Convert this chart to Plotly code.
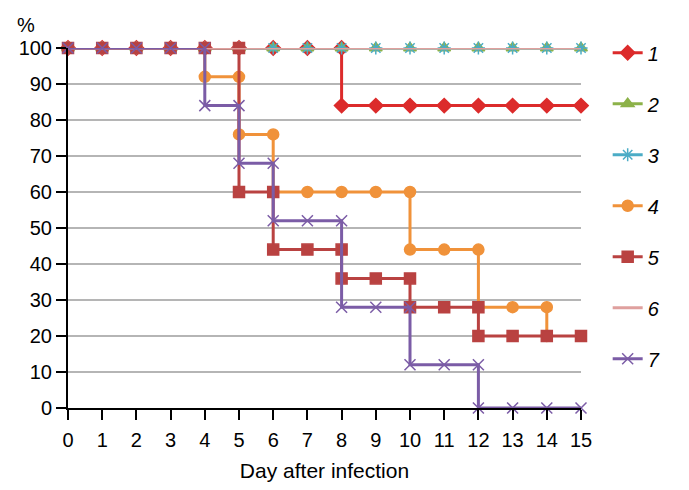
import plotly.graph_objects as go

# Step survival data (days duplicated where a drop occurs)
days_1 = [0, 1, 2, 3, 4, 5, 6, 7, 8, 8, 9, 10, 11, 12, 13, 14, 15]
vals_1 = [100, 100, 100, 100, 100, 100, 100, 100, 100, 84, 84, 84, 84, 84, 84, 84, 84]

days_2 = list(range(0, 16))
vals_2 = [100] * 16

days_3 = list(range(0, 16))
vals_3 = [100] * 16

days_4 = [0, 1, 2, 3, 4, 4, 5, 5, 6, 6, 7, 8, 9, 10, 10, 11, 12, 12, 13, 14, 14]
vals_4 = [100, 100, 100, 100, 100, 92, 92, 76, 76, 60, 60, 60, 60, 60, 44, 44, 44, 28, 28, 28, 20]

days_5 = [0, 1, 2, 3, 4, 5, 5, 6, 6, 7, 8, 8, 9, 10, 10, 11, 12, 12, 13, 14, 15]
vals_5 = [100, 100, 100, 100, 100, 100, 60, 60, 44, 44, 44, 36, 36, 36, 28, 28, 28, 20, 20, 20, 20]

days_6 = [0, 15]
vals_6 = [100, 100]

days_7 = [0, 1, 2, 3, 4, 4, 5, 5, 6, 6, 7, 8, 8, 9, 10, 10, 11, 12, 12, 13, 14, 15]
vals_7 = [100, 100, 100, 100, 100, 84, 84, 68, 68, 52, 52, 52, 28, 28, 28, 12, 12, 12, 0, 0, 0, 0]

names = ["1", "2", "3", "4", "5", "6", "7"]
x_ticks = list(range(0, 16))
y_ticks = list(range(0, 101, 10))

series = [
    (days_1, vals_1, "#DC2B2B", "diamond", 11, "lines+markers"),
    (days_2, vals_2, "#8CB249", "triangle-up", 11, "lines+markers"),
    (days_3, vals_3, "#4BACC6", "asterisk-open", 11, "lines+markers"),
    (days_4, vals_4, "#F0923A", "circle", 11, "lines+markers"),
    (days_5, vals_5, "#B94241", "square", 11, "lines+markers"),
    (days_6, vals_6, "#DFA09E", "circle", 1, "lines"),
    (days_7, vals_7, "#7B5CA6", "x-thin-open", 11, "lines+markers"),
]

fig = go.Figure()
for (dx, dy, col, sym, sz, mode), nm in zip(series, names):
    fig.add_trace(go.Scatter(
        x=dx, y=dy, name=nm, mode=mode, legendgroup=nm,
        line=dict(color=col, width=3),
        marker=dict(symbol=sym, size=sz, color=col, line=dict(color=col, width=1.5)),
        cliponaxis=False,
    ))

fig.update_layout(
    width=689, height=490,
    margin=dict(l=60, r=116, t=40, b=90, autoexpand=False),
    plot_bgcolor="white", paper_bgcolor="white",
    font=dict(family="Liberation Sans, Arial, sans-serif", size=20, color="black"),
    showlegend=True,
    legend=dict(x=1.052, y=1.041, xanchor="left", yanchor="top",
                font=dict(size=20, style="italic"), tracegroupgap=22,
                maxheight=470, bgcolor="rgba(0,0,0,0)"),
    xaxis=dict(range=[0, 15], tickvals=x_ticks, showgrid=False, zeroline=False,
               showline=True, linecolor="black", linewidth=2,
               ticks="outside", ticklen=10, tickwidth=2, tickcolor="black",
               ticklabelstandoff=3,
               title=dict(text="Day after infection", standoff=13, font=dict(size=21))),
    yaxis=dict(range=[0, 100], tickvals=y_ticks, showgrid=True, gridcolor="#B5B5B5",
               gridwidth=1.5, zeroline=False, showline=True, linecolor="black",
               linewidth=2, ticks="outside", ticklen=10, tickwidth=2, tickcolor="black"),
    annotations=[dict(text="%", xref="paper", yref="paper", x=-0.082, y=1.064,
                      showarrow=False, font=dict(size=20), xanchor="center", yanchor="middle")],
)

fig.write_html("out.html")
